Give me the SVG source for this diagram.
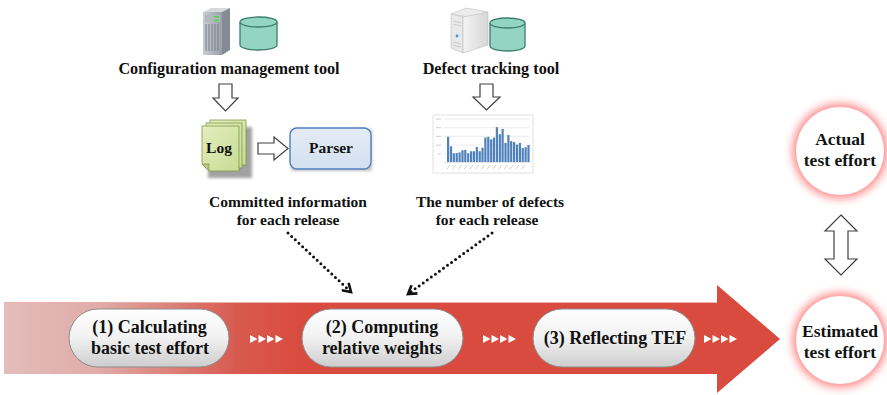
<svg xmlns="http://www.w3.org/2000/svg" width="887" height="395" viewBox="0 0 887 395" font-family="'Liberation Serif', 'DejaVu Serif', serif">
  <defs>
    <style>
      text { font-family: 'Liberation Serif', 'DejaVu Serif', serif; font-weight: bold; fill: #111; text-anchor: middle; }
      .lbl { font-size: 15.5px; }
      .tool { font-size: 16.2px; }
      .step { font-size: 18px; }
      .res { font-size: 17.5px; }
      .hollow { fill: #fff; stroke: #404040; stroke-width: 1.2; }
      .pill { fill: url(#pillGrad); stroke: #8c8c8c; stroke-width: 1; }
      .cyl { fill: #93d5c1; stroke: #3b7f6c; stroke-width: 1.3; }
      .dots { fill: none; stroke: #111; stroke-width: 3; stroke-linecap: round; stroke-dasharray: 0 5; }
      .bar { fill: #4f81bd; }
      .grid { stroke: #e2e2e2; stroke-width: 0.6; }
    </style>
    <linearGradient id="flowGrad" gradientUnits="userSpaceOnUse" x1="4" y1="0" x2="780" y2="0">
      <stop offset="0" stop-color="#e3bdbb"/>
      <stop offset="0.12" stop-color="#e0aca8"/>
      <stop offset="0.3" stop-color="#d85a4f"/>
      <stop offset="0.38" stop-color="#d94b3f"/>
      <stop offset="1" stop-color="#d94b3f"/>
    </linearGradient>
    <linearGradient id="pillGrad" x1="0" y1="0" x2="0" y2="1">
      <stop offset="0" stop-color="#ffffff"/>
      <stop offset="0.5" stop-color="#f1f1f1"/>
      <stop offset="1" stop-color="#cdcdcd"/>
    </linearGradient>
    <linearGradient id="pageGrad" x1="0" y1="0" x2="1" y2="1">
      <stop offset="0" stop-color="#e3edbf"/>
      <stop offset="1" stop-color="#c9dc94"/>
    </linearGradient>
    <linearGradient id="parserGrad" x1="0" y1="0" x2="0" y2="1">
      <stop offset="0" stop-color="#e4ecf6"/>
      <stop offset="1" stop-color="#d3e0f0"/>
    </linearGradient>
    <linearGradient id="srvFront" x1="0" y1="0" x2="1" y2="0">
      <stop offset="0" stop-color="#c9ccd2"/>
      <stop offset="1" stop-color="#9aa0a8"/>
    </linearGradient>
    <linearGradient id="srv2Side" x1="0" y1="0" x2="1" y2="0">
      <stop offset="0" stop-color="#f4f4f4"/>
      <stop offset="1" stop-color="#d6d6d6"/>
    </linearGradient>
    <filter id="glow" x="-40%" y="-40%" width="180%" height="180%">
      <feGaussianBlur stdDeviation="5"/>
    </filter>
    <filter id="soft" x="-20%" y="-20%" width="140%" height="140%">
      <feGaussianBlur stdDeviation="1.5"/>
    </filter>
    <path id="chev" d="M0,-4 L7.5,0 L0,4 Z" fill="#fff"/>
    <marker id="vhead" markerWidth="12" markerHeight="12" refX="9" refY="6" orient="auto" markerUnits="userSpaceOnUse">
      <path d="M1,1 L9,6 L1,11" fill="none" stroke="#111" stroke-width="2.6" stroke-linejoin="miter"/>
    </marker>
  </defs>

  <!-- main process band -->
  <g id="flow">
    <path d="M4,302 H717 V285 L780,339 L717,393 V374 H4 Z" fill="url(#flowGrad)"/>
    <line x1="4" y1="302.5" x2="717" y2="302.5" stroke="#ecb0aa" stroke-width="1"/>
  </g>

  <!-- tool sources -->
  <g id="config-tool">
    <polygon points="203,12 211,8 230,8 222,12" fill="#d5d8dd"/>
    <rect x="203" y="12" width="19" height="43" fill="url(#srvFront)"/>
    <polygon points="222,12 230,8 230,50 222,55" fill="#858b94"/>
    <g stroke="#7a8089" stroke-width="1">
      <line x1="206" y1="24" x2="206" y2="51"/>
      <line x1="209" y1="24" x2="209" y2="51"/>
      <line x1="212" y1="24" x2="212" y2="51"/>
      <line x1="215" y1="24" x2="215" y2="51"/>
      <line x1="218" y1="24" x2="218" y2="51"/>
    </g>
    <rect x="205" y="15" width="15" height="7" fill="#b3b8bf"/>
    <rect x="214" y="16" width="5" height="1.8" fill="#5ccf5c"/>
    <rect x="214" y="19.5" width="5" height="1.8" fill="#5ccf5c"/>
    <path class="cyl" d="M240,22 V45 A18.5,5 0 0 0 277,45 V22"/>
    <ellipse class="cyl" cx="258.5" cy="22" rx="18.5" ry="5"/>
    <text class="tool" x="229" y="74">Configuration  management tool</text>
  </g>

  <g id="defect-tool">
    <polygon points="451,14 466,8 488,12 473,18" fill="#ececec" stroke="#bdbdbd" stroke-width="0.6"/>
    <polygon points="451,14 463,17 463,53 451,48" fill="#e9e9e9" stroke="#bdbdbd" stroke-width="0.6"/>
    <polygon points="463,17 488,12 488,45 463,53" fill="url(#srv2Side)" stroke="#bdbdbd" stroke-width="0.6"/>
    <g stroke="#c4c4c4" stroke-width="0.8">
      <line x1="453" y1="21" x2="461" y2="23"/>
      <line x1="453" y1="24" x2="461" y2="26"/>
      <line x1="453" y1="42" x2="461" y2="44"/>
      <line x1="453" y1="45" x2="461" y2="47"/>
    </g>
    <circle cx="457" cy="36" r="1.4" fill="#3a9be0"/>
    <path class="cyl" d="M490,23 V46 A17.5,5 0 0 0 525,46 V23"/>
    <ellipse class="cyl" cx="507.5" cy="23" rx="17.5" ry="5"/>
    <text class="tool" x="491" y="74">Defect tracking  tool</text>
  </g>

  <!-- log pages -->
  <g id="log">
    <rect x="208" y="127" width="44" height="51" fill="#8a8a8a" filter="url(#soft)" opacity="0.8"/>
    <rect x="210" y="120" width="36" height="45" fill="url(#pageGrad)" stroke="#7f9a48" stroke-width="0.8"/>
    <rect x="206" y="123" width="36" height="45" fill="url(#pageGrad)" stroke="#7f9a48" stroke-width="0.8"/>
    <path d="M202,126 H239 V171 H209 L202,164 Z" fill="url(#pageGrad)" stroke="#7f9a48" stroke-width="0.8"/>
    <path d="M202,164 L209,164 L209,171 Z" fill="#b7c97e" stroke="#7f9a48" stroke-width="0.8"/>
    <text class="lbl" x="219" y="153">Log</text>
  </g>

  <g id="parser">
    <rect x="291" y="129" width="81" height="42" rx="2" fill="#999" filter="url(#soft)" opacity="0.6"/>
    <rect x="290" y="128" width="81" height="41" rx="7" fill="url(#parserGrad)" stroke="#4f7fbd" stroke-width="1.4"/>
    <text class="lbl" x="331" y="153">Parser</text>
  </g>

  <g id="commit-info">
    <text class="lbl" x="288" y="207">Committed  information</text>
    <text class="lbl" x="288" y="225">for  each release</text>
  </g>

  <!-- defect chart -->
  <g id="defect-chart">
    <rect x="433" y="115" width="100" height="58" fill="#fff" stroke="#dadada" stroke-width="0.8"/>
    <g class="grid">
      <line x1="444" y1="119" x2="530" y2="119"/>
      <line x1="444" y1="127.7" x2="530" y2="127.7"/>
      <line x1="444" y1="136.4" x2="530" y2="136.4"/>
      <line x1="444" y1="145.1" x2="530" y2="145.1"/>
      <line x1="444" y1="153.8" x2="530" y2="153.8"/>
      <line x1="444" y1="162.5" x2="530" y2="162.5" stroke="#cfcfcf"/>
    </g>
    <g stroke="#c8c8c8" stroke-width="0.9">
      <line x1="436" y1="119" x2="441" y2="119"/>
      <line x1="436" y1="127.7" x2="441" y2="127.7"/>
      <line x1="436" y1="136.4" x2="441" y2="136.4"/>
      <line x1="436" y1="145.1" x2="441" y2="145.1"/>
      <line x1="438" y1="153.8" x2="441" y2="153.8"/>
    </g>
    <g class="bar">
      <rect x="447.0" y="136.8" width="2.2" height="25.2"/>
      <rect x="449.9" y="146.3" width="2.2" height="15.7"/>
      <rect x="452.7" y="153.3" width="2.2" height="8.7"/>
      <rect x="455.6" y="153.0" width="2.2" height="9.0"/>
      <rect x="458.5" y="152.4" width="2.2" height="9.6"/>
      <rect x="461.4" y="150.2" width="2.2" height="11.8"/>
      <rect x="464.2" y="149.8" width="2.2" height="12.2"/>
      <rect x="467.1" y="153.3" width="2.2" height="8.7"/>
      <rect x="470.0" y="151.2" width="2.2" height="10.8"/>
      <rect x="472.8" y="151.2" width="2.2" height="10.8"/>
      <rect x="475.7" y="146.9" width="2.2" height="15.1"/>
      <rect x="478.6" y="151.2" width="2.2" height="10.8"/>
      <rect x="481.4" y="147.7" width="2.2" height="14.3"/>
      <rect x="484.3" y="137.6" width="2.2" height="24.4"/>
      <rect x="487.2" y="136.8" width="2.2" height="25.2"/>
      <rect x="490.1" y="139.4" width="2.2" height="22.6"/>
      <rect x="492.9" y="137.6" width="2.2" height="24.4"/>
      <rect x="495.8" y="127.2" width="2.2" height="34.8"/>
      <rect x="498.7" y="134.2" width="2.2" height="27.8"/>
      <rect x="501.5" y="128.9" width="2.2" height="33.1"/>
      <rect x="504.4" y="142.9" width="2.2" height="19.1"/>
      <rect x="507.3" y="135.0" width="2.2" height="27.0"/>
      <rect x="510.1" y="141.1" width="2.2" height="20.9"/>
      <rect x="513.0" y="142.0" width="2.2" height="20.0"/>
      <rect x="515.9" y="144.6" width="2.2" height="17.4"/>
      <rect x="518.8" y="142.9" width="2.2" height="19.1"/>
      <rect x="521.6" y="148.1" width="2.2" height="13.9"/>
      <rect x="524.5" y="147.2" width="2.2" height="14.8"/>
      <rect x="527.4" y="145.1" width="2.2" height="16.9"/>
    </g>
    <g stroke="#c8c8c8" stroke-width="0.9">
      <line x1="447" y1="169" x2="450" y2="165"/>
      <line x1="452.7" y1="169" x2="455.7" y2="165"/>
      <line x1="458.5" y1="169" x2="461.5" y2="165"/>
      <line x1="464.2" y1="169" x2="467.2" y2="165"/>
      <line x1="470" y1="169" x2="473" y2="165"/>
      <line x1="475.7" y1="169" x2="478.7" y2="165"/>
      <line x1="481.4" y1="169" x2="484.4" y2="165"/>
      <line x1="487.2" y1="169" x2="490.2" y2="165"/>
      <line x1="492.9" y1="169" x2="495.9" y2="165"/>
      <line x1="498.7" y1="169" x2="501.7" y2="165"/>
      <line x1="504.4" y1="169" x2="507.4" y2="165"/>
      <line x1="510.1" y1="169" x2="513.1" y2="165"/>
      <line x1="515.9" y1="169" x2="518.9" y2="165"/>
      <line x1="521.6" y1="169" x2="524.6" y2="165"/>
    </g>
  </g>

  <g id="defect-info">
    <text class="lbl" x="490" y="207">The number  of defects</text>
    <text class="lbl" x="487" y="225">for  each release</text>
  </g>

  <!-- process steps -->
  <g id="step1">
    <rect class="pill" x="69" y="309" width="160" height="58" rx="29"/>
    <text class="step" x="149.5" y="333">(1) Calculating</text>
    <text class="step" x="150" y="354">basic test effort</text>
  </g>
  <g id="step2">
    <rect class="pill" x="302" y="309" width="161" height="58" rx="29"/>
    <text class="step" x="382" y="333">(2) Computing</text>
    <text class="step" x="382" y="354">relative weights</text>
  </g>
  <g id="step3">
    <rect class="pill" x="533" y="309" width="162" height="58" rx="29"/>
    <text class="step" x="615" y="344">(3) Reflecting TEF</text>
  </g>

  <!-- results -->
  <g id="actual-effort">
    <circle cx="840" cy="151" r="47" fill="#ff5555" filter="url(#glow)" opacity="0.75"/>
    <circle cx="840" cy="151" r="44" fill="#fff"/>
    <text class="res" x="840" y="145">Actual</text>
    <text class="res" x="840" y="166">test effort</text>
  </g>
  <g id="estimated-effort">
    <circle cx="840" cy="340" r="47" fill="#ff5555" filter="url(#glow)" opacity="0.75"/>
    <circle cx="840" cy="340" r="44" fill="#fff"/>
    <text class="res" x="840" y="337">Estimated</text>
    <text class="res" x="840" y="358">test effort</text>
  </g>

  <!-- connectors -->
  <g id="connectors">
    <path class="hollow" d="M219,84 H232 V98 H238 L225.5,111 L213,98 H219 Z"/>
    <path class="hollow" d="M480,84 H493 V97 H500 L486.5,110 L473,97 H480 Z"/>
    <path class="hollow" d="M258,143 H274 V137 L288,148.5 L274,160 V154 H258 Z"/>
    <path class="hollow" d="M841,215 L857,231 H848 V259 H857 L841,275 L825,259 H834 V231 H825 Z"/>
    <path class="dots" d="M288,233 L351,292" marker-end="url(#vhead)"/>
    <path class="dots" d="M492,233 L408,294" marker-end="url(#vhead)"/>
    <g id="chevrons">
      <use href="#chev" x="250" y="339"/>
      <use href="#chev" x="258.5" y="339"/>
      <use href="#chev" x="267" y="339"/>
      <use href="#chev" x="275.5" y="339"/>
      <use href="#chev" x="483" y="339"/>
      <use href="#chev" x="491.5" y="339"/>
      <use href="#chev" x="500" y="339"/>
      <use href="#chev" x="508.5" y="339"/>
      <use href="#chev" x="704" y="339"/>
      <use href="#chev" x="712.5" y="339"/>
      <use href="#chev" x="721" y="339"/>
      <use href="#chev" x="729.5" y="339"/>
    </g>
  </g>
</svg>
